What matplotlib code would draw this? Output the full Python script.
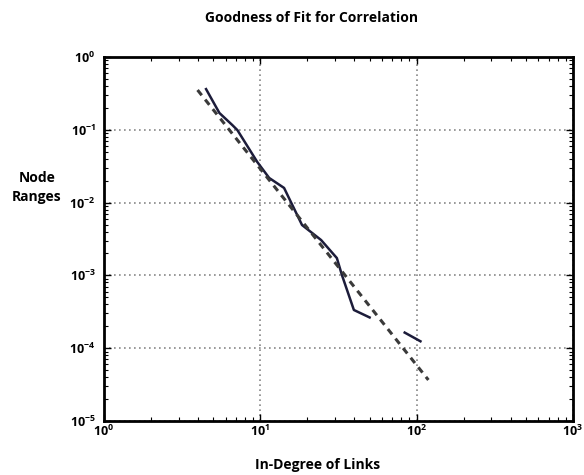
import numpy as np
import matplotlib
matplotlib.use("Agg")
import matplotlib.pyplot as plt
from matplotlib.ticker import LogLocator, FuncFormatter

plt.rcParams['font.family'] = ['Open Sans', 'DejaVu Sans']
plt.rcParams['mathtext.fontset'] = 'custom'
plt.rcParams['mathtext.rm'] = 'Open Sans:bold'
plt.rcParams['mathtext.it'] = 'Open Sans:bold'
plt.rcParams['mathtext.bf'] = 'Open Sans:bold'

# observed node ranges (gap where no data)
in_degree = [4.46, 5.48, 6.63, 7.14, 9.57, 11.4, 14.2, 18.5, 24.5, 30.9, 33.3, 39.7, 50.9,
             np.nan, 82.6, 107.6]
node_range = [0.375, 0.170, 0.116, 0.099, 0.0361, 0.0218, 0.0159, 0.00492, 0.00306, 0.00173,
              0.00101, 3.35e-4, 2.6e-4, np.nan, 1.67e-4, 1.22e-4]

# power-law fit
fit_x = [3.97, 119.0]
fit_y = [0.352, 3.66e-5]

title = 'Goodness of Fit for Correlation'
xlabel = 'In-Degree of Links'
ylabel = 'Node\nRanges'

fig = plt.figure(figsize=(5.84, 4.75), dpi=100)
ax = fig.add_axes([0.178, 0.1137, 0.803, 0.7663])

ax.plot(in_degree, node_range, color='#1c1c3a', lw=1.8, solid_capstyle='butt')
ax.plot(fit_x, fit_y, color='#3a3a3a', lw=2.2, ls=(0, (2.2, 1.8)))

ax.set_xscale('log')
ax.set_yscale('log')
ax.set_xlim(1, 1000)
ax.set_ylim(1e-5, 1)
ax.yaxis.set_major_locator(LogLocator(base=10, numticks=10))

pow_fmt = FuncFormatter(lambda v, pos: r'$\mathbf{10^{%d}}$' % int(round(np.log10(v))))
ax.xaxis.set_major_formatter(pow_fmt)
ax.yaxis.set_major_formatter(pow_fmt)

ax.grid(True, which='major', color='#888888', ls=(0, (1, 2)), lw=1.2)
ax.tick_params(which='both', direction='in', top=True, right=True, labelsize=9)
ax.tick_params(which='major', length=5, width=1)
ax.tick_params(which='minor', length=3, width=0.8)
ax.tick_params(axis='x', pad=2)
ax.tick_params(axis='y', pad=6)
for s in ax.spines.values():
    s.set_linewidth(2)

fig.text(0.533, 0.962, title, ha='center', va='center', fontsize=10, fontweight='bold')
fig.text(0.543, 0.022, xlabel, ha='center', va='center', fontsize=10, fontweight='bold')
fig.text(0.063, 0.605, ylabel, ha='center', va='center', fontsize=10, fontweight='bold',
         linespacing=1.4)

fig.savefig('out.png', dpi=100)
